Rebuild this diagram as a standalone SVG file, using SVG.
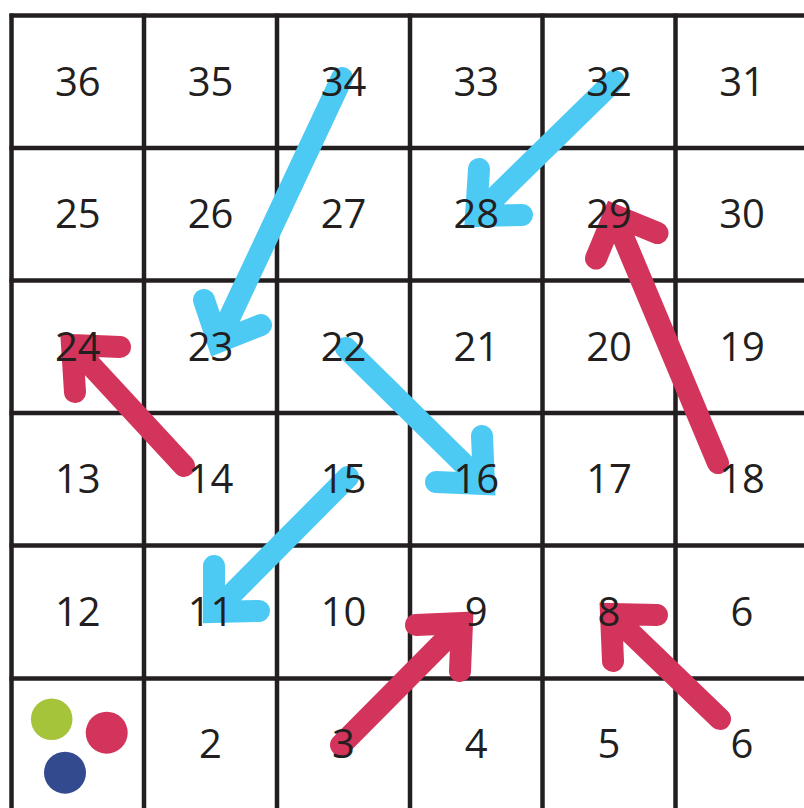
<svg xmlns="http://www.w3.org/2000/svg" width="804" height="808" viewBox="0 0 804 808">
<style>
.grid line{stroke:#231F20;stroke-width:4.5}
.arrow{fill:none;stroke-width:22;stroke-linecap:round;stroke-linejoin:miter;stroke-miterlimit:10}
.blue{stroke:#4DCAF3}
.red{stroke:#D3345B}
text{font-family:"Open Sans","Noto Sans","Liberation Sans",sans-serif;font-size:40px;fill:#231F20;text-anchor:middle}
</style>
<rect x="0" y="0" width="804" height="808" fill="#FFFFFF"/>
<g id="grid" class="grid">
<line x1="9.5" y1="15.5" x2="804" y2="15.5"/>
<line x1="9.5" y1="148" x2="804" y2="148"/>
<line x1="9.5" y1="280.5" x2="804" y2="280.5"/>
<line x1="9.5" y1="413" x2="804" y2="413"/>
<line x1="9.5" y1="545.5" x2="804" y2="545.5"/>
<line x1="9.5" y1="678.5" x2="804" y2="678.5"/>
<line x1="11.5" y1="13.5" x2="11.5" y2="808"/>
<line x1="144" y1="13.5" x2="144" y2="808"/>
<line x1="277" y1="13.5" x2="277" y2="808"/>
<line x1="410" y1="13.5" x2="410" y2="808"/>
<line x1="542.5" y1="13.5" x2="542.5" y2="808"/>
<line x1="675.5" y1="13.5" x2="675.5" y2="808"/>
</g>
<g id="connectors">
<path id="snake-34-23" class="arrow blue" d="M342 78 L218 342 M204 300 L218 342 L261 325"/>
<path id="snake-32-28" class="arrow blue" d="M614 81 L476 216 M479 169 L476 216 L522 215"/>
<path id="snake-22-16" class="arrow blue" d="M346 348 L484 484 M482 436 L484 484 L436 482"/>
<path id="snake-15-11" class="arrow blue" d="M348 477 L214 612 M214 566 L214 612 L259 611"/>
<path id="ladder-14-24" class="arrow red" d="M184 466 L72 345 M120 347 L72 345 L75 392"/>
<path id="ladder-18-29" class="arrow red" d="M718 463 L614 215 M657.5 233 L614 215 L596 258.5"/>
<path id="ladder-3-9" class="arrow red" d="M341 745 L462 623 M416 625 L462 623 L460 671"/>
<path id="ladder-6-8" class="arrow red" d="M720 719 L611 614 M657 615 L611 614 L613 661"/>
</g>
<g id="tokens">
<circle id="token-green" cx="51.7" cy="719.3" r="20.8" fill="#A6C43A"/>
<circle id="token-red" cx="106.7" cy="732.7" r="21" fill="#D3345B"/>
<circle id="token-navy" cx="65" cy="772.7" r="21" fill="#344A8F"/>
</g>
<g id="cells">
<g id="c36"><text x="77.75" y="95.75">36</text></g>
<g id="c35"><text x="210.5" y="95.75">35</text></g>
<g id="c34"><text x="343.5" y="95.75">34</text></g>
<g id="c33"><text x="476.25" y="95.75">33</text></g>
<g id="c32"><text x="609" y="95.75">32</text></g>
<g id="c31"><text x="742" y="95.75">31</text></g>
<g id="c25"><text x="77.75" y="228.25">25</text></g>
<g id="c26"><text x="210.5" y="228.25">26</text></g>
<g id="c27"><text x="343.5" y="228.25">27</text></g>
<g id="c28"><text x="476.25" y="228.25">28</text></g>
<g id="c29"><text x="609" y="228.25">29</text></g>
<g id="c30"><text x="742" y="228.25">30</text></g>
<g id="c24"><text x="77.75" y="360.75">24</text></g>
<g id="c23"><text x="210.5" y="360.75">23</text></g>
<g id="c22"><text x="343.5" y="360.75">22</text></g>
<g id="c21"><text x="476.25" y="360.75">21</text></g>
<g id="c20"><text x="609" y="360.75">20</text></g>
<g id="c19"><text x="742" y="360.75">19</text></g>
<g id="c13"><text x="77.75" y="493.25">13</text></g>
<g id="c14"><text x="210.5" y="493.25">14</text></g>
<g id="c15"><text x="343.5" y="493.25">15</text></g>
<g id="c16"><text x="476.25" y="493.25">16</text></g>
<g id="c17"><text x="609" y="493.25">17</text></g>
<g id="c18"><text x="742" y="493.25">18</text></g>
<g id="c12"><text x="77.75" y="626">12</text></g>
<g id="c11"><text x="210.5" y="626">11</text></g>
<g id="c10"><text x="343.5" y="626">10</text></g>
<g id="c9"><text x="476.25" y="626">9</text></g>
<g id="c8"><text x="609" y="626">8</text></g>
<g id="c7"><text x="742" y="626">6</text></g>
<g id="c2"><text x="210.5" y="757.5">2</text></g>
<g id="c3"><text x="343.5" y="757.5">3</text></g>
<g id="c4"><text x="476.25" y="757.5">4</text></g>
<g id="c5"><text x="609" y="757.5">5</text></g>
<g id="c6"><text x="742" y="757.5">6</text></g>
</g>
</svg>
